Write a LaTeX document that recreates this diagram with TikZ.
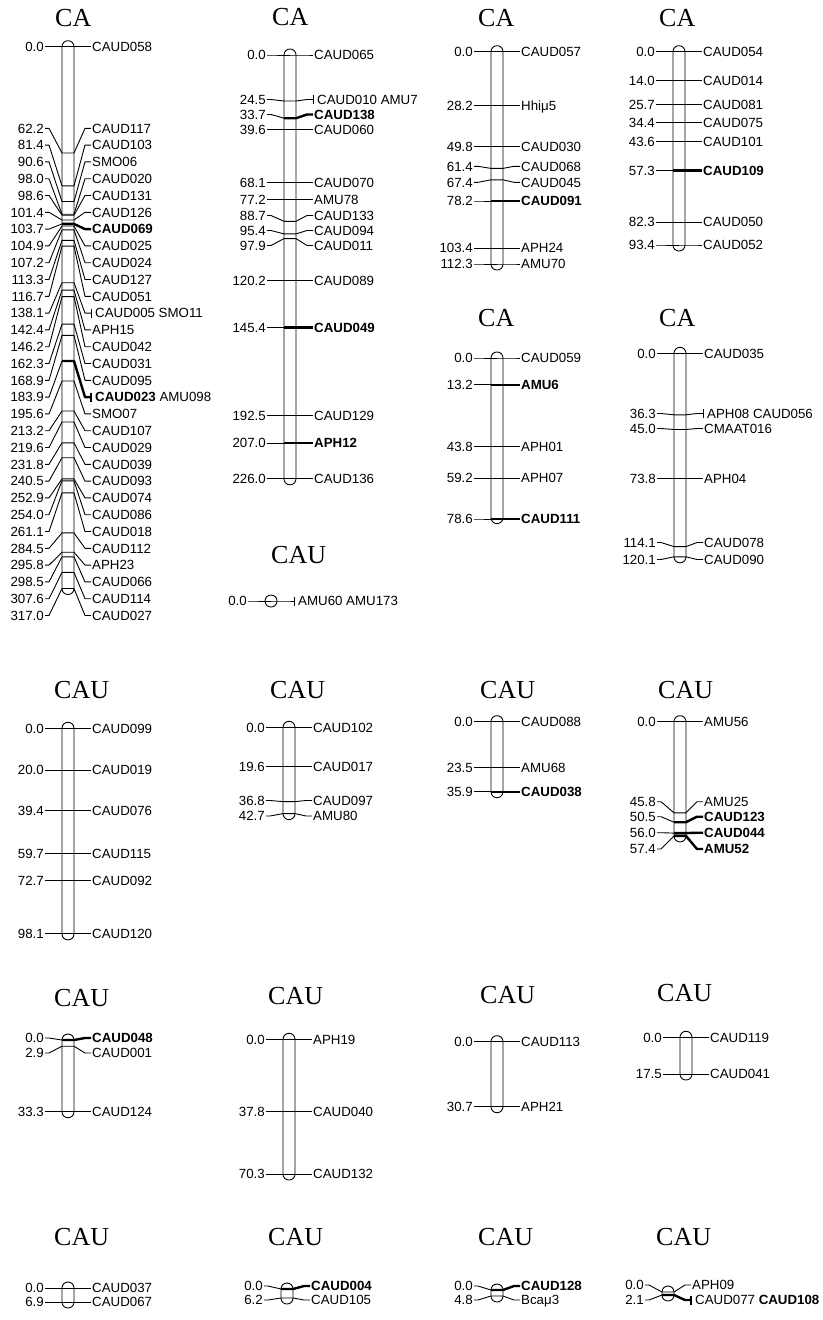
\documentclass[tikz,border=0pt]{standalone}
\usepackage{fontspec}
\setmainfont{Liberation Serif}
\setsansfont{Liberation Sans}

\tikzset{
  posnum/.style={font=\sffamily\fontsize{13.3}{15}\selectfont, inner sep=1pt, text height=9.5pt, text depth=0pt, anchor=east},
  mkname/.style={font=\sffamily\fontsize{13.3}{15}\selectfont, inner sep=1pt, text height=9.5pt, text depth=0pt, anchor=west},
  chrtitle/.style={font=\fontsize{26}{30}\selectfont, inner sep=0pt, text height=17pt, text depth=0pt, anchor=west},
  chrbar/.style={line width=0.9pt, rounded corners=5.9pt},
}

% one locus: id, bar x, y on bar, y of labels, position, marker, thick (0/1), tick (0/1)
\newcommand{\locus}[8]{%
  \node[posnum] (#1p) at (#2-23,#4) {#5};
  \node[mkname] (#1m) at (#2+23+#8*3,#4) {#6};
  \draw[line width=0.9pt] (#1p.east) -- ++(4,0) -- (#2-6,#3);
  \ifnum#7=1 \def\lwd{2.4pt}\else\def\lwd{0.9pt}\fi
  \draw[line width=\lwd] (#2-6,#3) -- (#2+6,#3) -- (#2+17,#4) -- (#2+23,#4);
  \ifnum#8=1 \draw[line width=\lwd] (#2+23,#4-4.5) -- (#2+23,#4+4.5);\fi
}

\begin{document}
\begin{tikzpicture}[line join=round, x=1pt, y=-1pt]
\useasboundingbox (0,0) rectangle (822,1320);

% group titles
\foreach \n/\x/\y/\t in {A/55/18/CA, B/272/17/CA, C/478/18/CA, D/659/18/CA,
    E/478/318/CA, F/659/318/CA, S/271/555/CAU,
    G/54/690/CAU, H/270/690/CAU, I/480/690/CAU, J/658/690/CAU,
    K/54/998/CAU, L/268/996/CAU, M/480/995/CAU, N/657/993/CAU,
    O/54/1237/CAU, P/268/1237/CAU, Q/478/1237/CAU, R/656/1237/CAU}
  \node[chrtitle] (t\n) at (\x,\y) {\t};

% chromosome bars
\foreach \x/\ya/\yb in {68/46.7/588.5, 290/55/478.8, 497/51.7/264, 679/51.7/245,
    497/358/517.6, 680/353.3/556.8, 271/601/601,
    68/728.3/933.9, 289/727.3/813.6, 497/721.7/791.7, 680/721.7/835.9,
    68/1040/1111.7, 289/1039.3/1174, 497/1041.7/1106.7, 686/1037.3/1074,
    68/1288/1302, 287/1289/1298, 497/1290/1296, 668/1292/1295}
  \draw[chrbar] (\x-6,\ya-6) rectangle (\x+6,\yb+6);

% CA, first column
\foreach \ym/\yl/\d/\n/\b/\t [count=\k] in {46.7/46.7/0.0/CAUD058/0/0,
    153.0/128.3/62.2/CAUD117/0/0, 185.8/145.1/81.4/CAUD103/0/0,
    201.5/161.9/90.6/SMO06/0/0, 214.2/178.7/98.0/CAUD020/0/0,
    215.2/195.5/98.6/CAUD131/0/0, 220.0/212.3/101.4/CAUD126/0/0,
    223.9/229.1/103.7/\textbf{CAUD069}/1/0, 226.0/245.9/104.9/CAUD025/0/0,
    229.9/262.7/107.2/CAUD024/0/0, 240.3/279.5/113.3/CAUD127/0/0,
    246.1/296.3/116.7/CAUD051/0/0, 282.7/313.1/138.1/CAUD005 SMO11/0/1,
    290.1/329.9/142.4/APH15/0/0, 296.6/346.7/146.2/CAUD042/0/0,
    324.1/363.5/162.3/CAUD031/0/0, 335.4/380.3/168.9/CAUD095/0/0,
    361.0/397.1/183.9/\textbf{CAUD023} AMU098/1/1, 381.0/413.9/195.6/SMO07/0/0,
    411.0/430.7/213.2/CAUD107/0/0, 422.0/447.5/219.6/CAUD029/0/0,
    442.8/464.3/231.8/CAUD039/0/0, 457.7/481.1/240.5/CAUD093/0/0,
    478.9/497.9/252.9/CAUD074/0/0, 480.8/514.7/254.0/CAUD086/0/0,
    492.9/531.5/261.1/CAUD018/0/0, 532.9/548.3/284.5/CAUD112/0/0,
    552.2/565.1/295.8/APH23/0/0, 556.8/581.9/298.5/CAUD066/0/0,
    572.4/598.7/307.6/CAUD114/0/0, 588.5/615.5/317.0/CAUD027/0/0}
  {\locus{A\k}{68}{\ym}{\yl}{\d}{\n}{\b}{\t}}

% CA, second column
\foreach \ym/\yl/\d/\n/\b/\t [count=\k] in {55/55/0.0/CAUD065/0/0,
    101/99.5/24.5/CAUD010 AMU7/0/1, 118.2/114.5/33.7/\textbf{CAUD138}/1/0,
    129.3/129.3/39.6/CAUD060/0/0, 182.7/182.7/68.1/CAUD070/0/0,
    199.8/199.8/77.2/AMU78/0/0, 221.3/215.5/88.7/CAUD133/0/0,
    233.9/230.5/95.4/CAUD094/0/0, 238.6/245.5/97.9/CAUD011/0/0,
    280.4/280.4/120.2/CAUD089/0/0, 327.6/327.6/145.4/\textbf{CAUD049}/1/0,
    415.9/415.9/192.5/CAUD129/0/0, 443.1/443.1/207.0/\textbf{APH12}/1/0,
    478.8/478.8/226.0/CAUD136/0/0}
  {\locus{B\k}{290}{\ym}{\yl}{\d}{\n}{\b}{\t}}

% CA, third column
\foreach \ym/\yl/\d/\n/\b [count=\k] in {51.7/51.7/0.0/CAUD057/0,
    105.3/105.3/28.2/Hhiμ5/0, 146.3/146.3/49.8/CAUD030/0,
    168.4/166.3/61.4/CAUD068/0, 179.8/182.3/67.4/CAUD045/0,
    201/201/78.2/\textbf{CAUD091}/1, 248.2/248.2/103.4/APH24/0,
    264/264/112.3/AMU70/0}
  {\locus{C\k}{497}{\ym}{\yl}{\d}{\n}{\b}{0}}

% CA, fourth column
\foreach \ym/\d/\n/\b [count=\k] in {51.7/0.0/CAUD054/0, 80.7/14.0/CAUD014/0,
    104.9/25.7/CAUD081/0, 122.9/34.4/CAUD075/0, 141.9/43.6/CAUD101/0,
    170.3/57.3/\textbf{CAUD109}/1, 222.1/82.3/CAUD050/0, 245.0/93.4/CAUD052/0}
  {\locus{D\k}{679}{\ym}{\ym}{\d}{\n}{\b}{0}}

\foreach \ym/\d/\n/\b [count=\k] in {358/0.0/CAUD059/0,
    384.8/13.2/\textbf{AMU6}/1, 446.9/43.8/APH01/0, 478.2/59.2/APH07/0,
    519/78.6/\textbf{CAUD111}/1}
  {\locus{E\k}{497}{\ym}{\ym}{\d}{\n}{\b}{0}}

\foreach \ym/\yl/\d/\n/\t [count=\k] in {353.3/353.3/0.0/CAUD035/0,
    414.8/413.5/36.3/APH08 CAUD056/1, 429.5/428.5/45.0/CMAAT016/0,
    478.3/478.3/73.8/APH04/0, 546.6/542.5/114.1/CAUD078/0,
    556.8/559.5/120.1/CAUD090/0}
  {\locus{F\k}{680}{\ym}{\yl}{\d}{\n}{0}{\t}}

% single locus group
\locus{S1}{271}{601}{601}{0.0}{AMU60 AMU173}{0}{1}

% CAU groups
\foreach \ym/\d/\n [count=\k] in {728.3/0.0/CAUD099, 770.2/20.0/CAUD019,
    810.9/39.4/CAUD076, 853.4/59.7/CAUD115, 880.7/72.7/CAUD092, 933.9/98.1/CAUD120}
  {\locus{G\k}{68}{\ym}{\ym}{\d}{\n}{0}{0}}

\foreach \ym/\yl/\d/\n [count=\k] in {727.3/727.3/0.0/CAUD102,
    766.9/766.9/19.6/CAUD017, 801.6/800.5/36.8/CAUD097, 813.6/816/42.7/AMU80}
  {\locus{H\k}{289}{\ym}{\yl}{\d}{\n}{0}{0}}

\foreach \ym/\d/\n/\b [count=\k] in {721.7/0.0/CAUD088/0, 767.5/23.5/AMU68/0,
    791.7/35.9/\textbf{CAUD038}/1}
  {\locus{I\k}{497}{\ym}{\ym}{\d}{\n}{\b}{0}}

\foreach \ym/\yl/\d/\n/\b [count=\k] in {721.7/721.7/0.0/AMU56/0,
    812.8/801.7/45.8/AMU25/0, 822.2/816.7/50.5/\textbf{CAUD123}/1,
    833.1/832.7/56.0/\textbf{CAUD044}/1, 835.9/849/57.4/\textbf{AMU52}/1}
  {\locus{J\k}{680}{\ym}{\yl}{\d}{\n}{\b}{0}}

\foreach \ym/\yl/\d/\n/\b [count=\k] in {1040/1038/0.0/\textbf{CAUD048}/1,
    1046.2/1053/2.9/CAUD001/0, 1111.7/1111.7/33.3/CAUD124/0}
  {\locus{K\k}{68}{\ym}{\yl}{\d}{\n}{\b}{0}}

\foreach \ym/\d/\n [count=\k] in {1039.3/0.0/APH19, 1111.7/37.8/CAUD040, 1174/70.3/CAUD132}
  {\locus{L\k}{289}{\ym}{\ym}{\d}{\n}{0}{0}}

\foreach \ym/\d/\n [count=\k] in {1041.7/0.0/CAUD113, 1106.7/30.7/APH21}
  {\locus{M\k}{497}{\ym}{\ym}{\d}{\n}{0}{0}}

\foreach \ym/\d/\n [count=\k] in {1037.3/0.0/CAUD119, 1074/17.5/CAUD041}
  {\locus{N\k}{686}{\ym}{\ym}{\d}{\n}{0}{0}}

\foreach \ym/\d/\n [count=\k] in {1288/0.0/CAUD037, 1302/6.9/CAUD067}
  {\locus{O\k}{68}{\ym}{\ym}{\d}{\n}{0}{0}}

\foreach \ym/\yl/\d/\n/\b [count=\k] in {1289/1286/0.0/\textbf{CAUD004}/1,
    1298/1300/6.2/CAUD105/0}
  {\locus{P\k}{287}{\ym}{\yl}{\d}{\n}{\b}{0}}

\foreach \ym/\yl/\d/\n/\b [count=\k] in {1290/1286/0.0/\textbf{CAUD128}/1,
    1296/1300/4.8/Bcaμ3/0}
  {\locus{Q\k}{497}{\ym}{\yl}{\d}{\n}{\b}{0}}

\foreach \ym/\yl/\d/\n/\b/\t [count=\k] in {1292/1285/0.0/APH09/0/0,
    1295/1300/2.1/CAUD077 \textbf{CAUD108}/1/1}
  {\locus{R\k}{668}{\ym}{\yl}{\d}{\n}{\b}{\t}}
\end{tikzpicture}
\end{document}
